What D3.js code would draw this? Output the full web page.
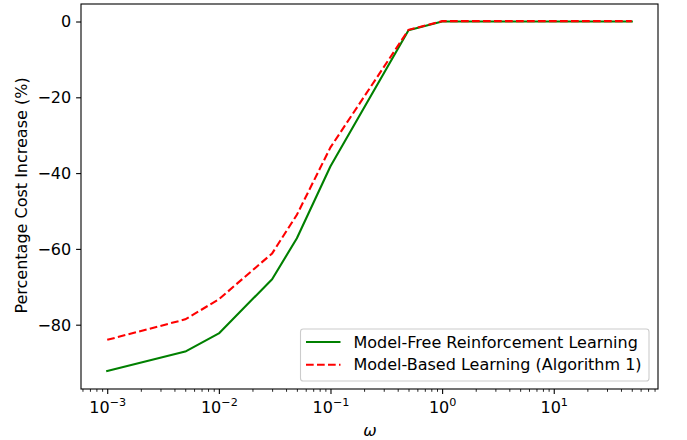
<!DOCTYPE html>
<html><head><meta charset="utf-8">
<script src="https://cdn.jsdelivr.net/npm/d3@7"></script>
<style>body{margin:0;background:#fff}svg{display:block}text{font-family:"DejaVu Sans",sans-serif}</style>
</head><body>
<svg id="c" width="687" height="440"></svg>
<script>
const omega = [0.001, 0.005, 0.01, 0.03, 0.05, 0.1, 0.5, 1, 5, 10, 50];
const modelFree = [-92.2, -87.1, -82.3, -68.0, -57.2, -38.2, -2.3, 0.0, 0.0, 0.0, 0.0];
const modelBased = [-84.0, -78.6, -73.3, -61.2, -51.0, -33.2, -2.2, 0.1, 0.1, 0.1, 0.1];
const seriesNames = ["Model-Free Reinforcement Learning", "Model-Based Learning (Algorithm 1)"];
const yTicks = [0, -20, -40, -60, -80];
const xTickExps = [-3, -2, -1, 0, 1];

const FS = 16;
const svg = d3.select("#c");
const L = 81, R = 658, T = 4, B = 389;
const x = d3.scaleLog().domain([Math.pow(10, -3.2349), Math.pow(10, 1.9339)]).range([L, R]);
const y = d3.scaleLinear().domain([-96.97, 4.62]).range([B, T]);

// lines
const line = d3.line().x((d, i) => x(omega[i])).y(d => y(d));
const g = svg.append("g");
g.append("path").datum(modelFree).attr("d", line).attr("fill", "none")
  .attr("stroke", "#008000").attr("stroke-width", 2.1).attr("stroke-linejoin", "round").attr("stroke-linecap", "square");
g.append("path").datum(modelBased).attr("d", line).attr("fill", "none")
  .attr("stroke", "#ff0000").attr("stroke-width", 2.1).attr("stroke-dasharray", "7.7,3.3");

// axes
const fmtMinus = v => (v < 0 ? "\u2212" : "") + Math.abs(v);
const yAxis = d3.axisLeft(y).tickValues(yTicks).tickSize(4.9).tickPadding(4.9).tickFormat(fmtMinus);
const ya = svg.append("g").attr("transform", `translate(${L},0)`).call(yAxis);
ya.select(".domain").remove();
ya.selectAll("text").attr("font-size", FS).attr("fill", "#000").attr("dy", "0.34em");
ya.selectAll("line").attr("stroke", "#000").attr("stroke-width", 1.1);

const minorVals = [];
for (let e = -4; e <= 2; e++) for (let m = 2; m <= 9; m++) {
  const v = m * Math.pow(10, e);
  if (v >= x.domain()[0] && v <= x.domain()[1]) minorVals.push(v);
}
const xMinor = d3.axisBottom(x).tickValues(minorVals).tickSize(2.8).tickFormat("");
const xm = svg.append("g").attr("transform", `translate(0,${B})`).call(xMinor);
xm.select(".domain").remove();
xm.selectAll("line").attr("stroke", "#000").attr("stroke-width", 0.85);

const xAxis = d3.axisBottom(x).tickValues(xTickExps.map(e => Math.pow(10, e))).tickSize(4.9).tickFormat("");
const xa = svg.append("g").attr("transform", `translate(0,${B})`).call(xAxis);
xa.select(".domain").remove();
xa.selectAll("line").attr("stroke", "#000").attr("stroke-width", 1.1);
xa.selectAll(".tick").each(function(d, i) {
  const t = d3.select(this).append("text").attr("x", 0).attr("y", 23.5).attr("fill", "#000").attr("font-size", FS).attr("text-anchor", "middle");
  t.append("tspan").text("10");
  const e = xTickExps[i];
  t.append("tspan").attr("dy", -7).attr("font-size", 11.2).text(e < 0 ? "\u2212" + Math.abs(e) : String(e));
});

// frame
svg.append("rect").attr("x", L).attr("y", T).attr("width", R - L).attr("height", B - T)
  .attr("fill", "none").attr("stroke", "#000").attr("stroke-width", 1.1);

// labels
svg.append("text").attr("x", 370).attr("y", 436).attr("text-anchor", "middle").attr("font-size", FS)
  .attr("font-style", "italic").text("\u03c9");
svg.append("text").attr("transform", `translate(27,${(T + B) / 2 - 1}) rotate(-90)`).attr("text-anchor", "middle")
  .attr("font-size", FS).text("Percentage Cost Increase (%)");

// legend
const lg = svg.append("g");
lg.append("rect").attr("x", 300.5).attr("y", 329).attr("width", 348.5).attr("height", 52).attr("rx", 2.8)
  .attr("fill", "#fff").attr("fill-opacity", 0.8).attr("stroke", "#cccccc").attr("stroke-width", 1.1);
const legItems = [{c: "#008000", dash: null}, {c: "#ff0000", dash: "7.7,3.3"}];
legItems.forEach((it, i) => {
  const yy = 342 + i * 22.8;
  lg.append("line").attr("x1", 306).attr("x2", 340.5).attr("y1", yy).attr("y2", yy)
    .attr("stroke", it.c).attr("stroke-width", 2.1).attr("stroke-dasharray", it.dash);
  lg.append("text").attr("x", 353.5).attr("y", yy + 5.5).attr("font-size", FS).attr("fill", "#000").text(seriesNames[i]);
});
</script>
</body></html>
